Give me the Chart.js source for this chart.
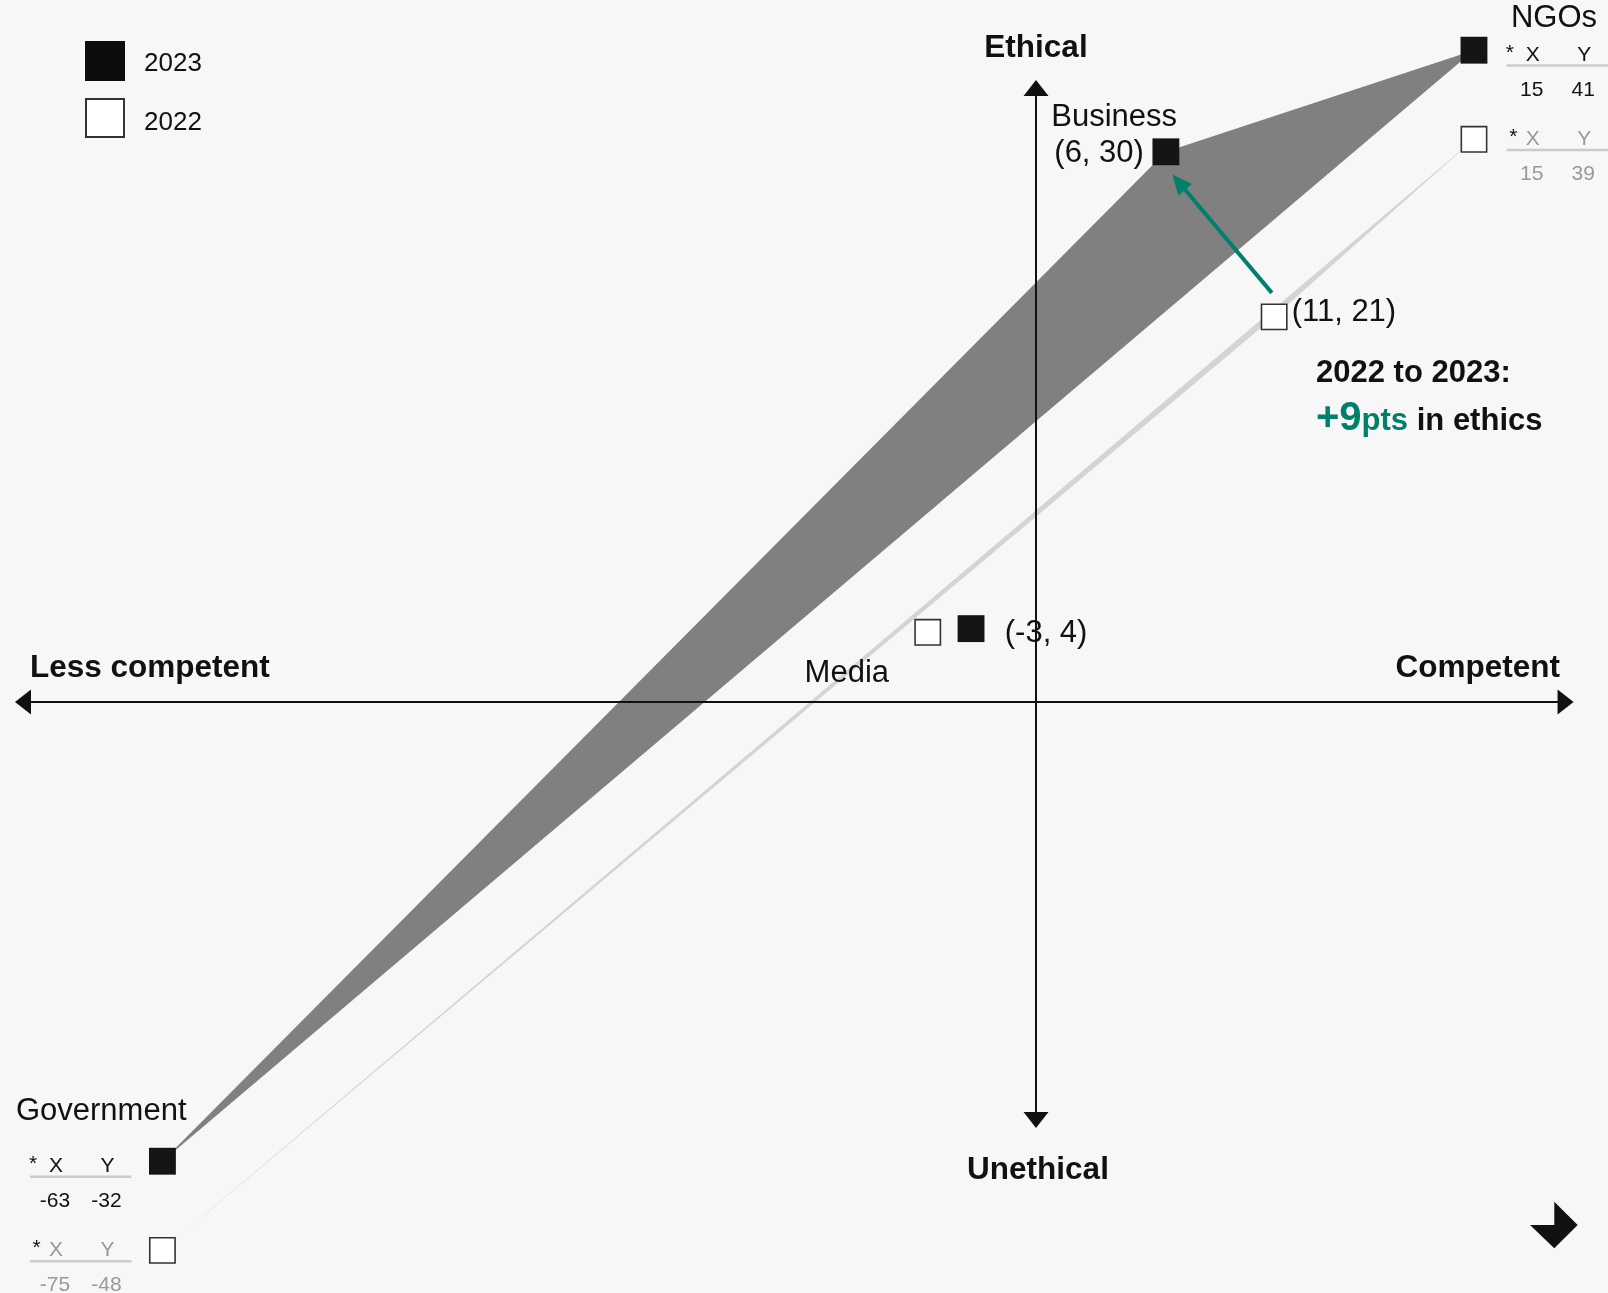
<!DOCTYPE html>
<html lang="en">
<head>
  <meta charset="UTF-8">
  <meta name="viewport" content="width=device-width, initial-scale=1.0">
  <title>Competence vs ethics</title>
  <script src="https://cdn.jsdelivr.net/npm/chart.js"></script>
  <style>
    html, body { margin: 0; padding: 0; background: #f7f7f7; }
    #wrap { width: 1608px; height: 1293px; }
  </style>
</head>
<body>
  <div id="wrap"><canvas id="myChart"></canvas></div>
  <script>
    // competence (x) and ethics (y) scores per institution
    const institutions = ['Government', 'Media', 'Business', 'NGOs'];
    const competence2023 = [-63, -3, 6, 15];
    const ethics2023 = [-32, 4, 30, 41];
    const competence2022 = [-75, -5, 11, 15];
    const ethics2022 = [-48, 3.8, 21, 39];

    // visible window - points outside it get pushed into the corner and their values go in a little table
    const pinX = [-40.35, 20.23];
    const pinY = [-25.04, 35.54];
    const pinStep = 4.86; // 2022 sits one row under 2023 when pinned

    // where the axis arrows end (data units)
    const axisX = [-47.16, 24.83];
    const axisY = [-23.23, 33.92];

    const FONT = '"Liberation Sans", Arial, sans-serif';
    const GREEN = '#00806a';

    function pinned(x, y, row) {
      const off = x < pinX[0] || x > pinX[1] || y < pinY[0] || y > pinY[1];
      if (!off) return { x: x, y: y, off: false };
      return {
        x: x > 0 ? pinX[1] : pinX[0],
        y: (y > 0 ? pinY[1] : pinY[0]) - row * pinStep,
        off: true
      };
    }

    const pts2023 = institutions.map((n, i) => pinned(competence2023[i], ethics2023[i], 0));
    const pts2022 = institutions.map((n, i) => pinned(competence2022[i], ethics2022[i], 1));

    // triangle Government -> Business -> NGOs, filled down to the Government -> NGOs edge
    const triTop = pts => [pts[0], pts[2], pts[3]];
    const triBase = pts => [pts[0], pts[3]];

    function text(ctx, str, x, y, font, color, align) {
      ctx.font = font;
      ctx.fillStyle = color;
      ctx.textAlign = align || 'left';
      ctx.textBaseline = 'alphabetic';
      ctx.fillText(str, x, y);
    }

    function arrowHead(ctx, x, y, dx, dy, len, half) {
      ctx.beginPath();
      ctx.moveTo(x, y);
      ctx.lineTo(x - dx * len - dy * half, y - dy * len + dx * half);
      ctx.lineTo(x - dx * len + dy * half, y - dy * len - dx * half);
      ctx.closePath();
      ctx.fill();
    }

    const overlay = {
      id: 'overlay',
      afterDatasetsDraw(chart) {
        const ctx = chart.ctx;
        const sx = chart.scales.x, sy = chart.scales.y;
        const px = v => sx.getPixelForValue(v);
        const py = v => sy.getPixelForValue(v);
        ctx.save();

        // axes with arrow heads
        const x0 = px(0), y0 = py(0);
        ctx.strokeStyle = '#111';
        ctx.fillStyle = '#111';
        ctx.lineWidth = 2;
        ctx.beginPath();
        ctx.moveTo(px(axisX[0]) + 10, y0); ctx.lineTo(px(axisX[1]) - 10, y0);
        ctx.moveTo(x0, py(axisY[1]) + 10); ctx.lineTo(x0, py(axisY[0]) - 10);
        ctx.stroke();
        arrowHead(ctx, px(axisX[0]), y0, -1, 0, 16, 12.5);
        arrowHead(ctx, px(axisX[1]), y0, 1, 0, 16, 12.5);
        arrowHead(ctx, x0, py(axisY[1]), 0, -1, 16, 12.5);
        arrowHead(ctx, x0, py(axisY[0]), 0, 1, 16, 12.5);

        const B = 'bold 31.5px ' + FONT;
        const R = '31px ' + FONT;
        text(ctx, 'Ethical', x0, 57, B, '#111', 'center');
        text(ctx, 'Unethical', x0 + 2, 1179, B, '#111', 'center');
        text(ctx, 'Less competent', 30, 677, B, '#111');
        text(ctx, 'Competent', 1560, 677, B, '#111', 'right');

        // point labels
        const gov = pts2023[0], med = pts2023[1], med22 = pts2022[1];
        const bus = pts2023[2], bus22 = pts2022[2], ngo = pts2023[3];
        text(ctx, institutions[2], px(bus.x) - 114.6, py(bus.y) - 26, R, '#111');
        text(ctx, '(' + competence2023[2] + ', ' + ethics2023[2] + ')', px(bus.x) - 22, py(bus.y) + 10, R, '#111', 'right');
        text(ctx, '(' + competence2022[2] + ', ' + ethics2022[2] + ')', px(bus22.x) + 17.5, py(bus22.y) + 4.5, R, '#111');
        text(ctx, '(' + competence2023[1] + ', ' + ethics2023[1] + ')', px(med.x) + 33.7, py(med.y) + 13.7, R, '#111');
        text(ctx, institutions[1], px(med22.x) - 38.7, py(med22.y) + 49.7, R, '#111', 'right');
        text(ctx, institutions[3], px(ngo.x) + 37, py(ngo.y) - 23, R, '#111');
        text(ctx, institutions[0], px(gov.x) - 146.5, py(gov.y) - 41.3, R, '#111');

        // value tables for pinned points
        const T = '21px ' + FONT;
        institutions.forEach((name, i) => {
          if (!pts2023[i].off) return;
          const cx = px(pts2023[i].x), cy = py(pts2023[i].y);
          const start = pts2023[i].x > 0 ? cx + 32.7 : cx - 132.5;
          const rows = [
            { xs: competence2023[i], ys: ethics2023[i], col: '#111', dy: 0, star: 0 },
            { xs: competence2022[i], ys: ethics2022[i], col: '#999', dy: 84.5, star: 3.5 }
          ];
          rows.forEach(r => {
            const hy = cy + 10.6 + r.dy;
            text(ctx, '*', start - 1 + r.star, hy - 2, T, '#111');
            text(ctx, 'X', start + 26, hy, T, r.col, 'center');
            text(ctx, 'Y', start + 77.5, hy, T, r.col, 'center');
            ctx.strokeStyle = '#cccccc';
            ctx.lineWidth = 2.5;
            ctx.beginPath();
            ctx.moveTo(start, hy + 4.8);
            ctx.lineTo(start + 101.5, hy + 4.8);
            ctx.stroke();
            text(ctx, String(r.xs), start + 25, hy + 35, T, r.col, 'center');
            text(ctx, String(r.ys), start + 76.5, hy + 35, T, r.col, 'center');
          });
        });

        // green change arrow, 2022 -> 2023 for business
        const ax = px(bus22.x) - 2.3, ay = py(bus22.y) - 24;
        const tx = px(bus.x) + 6.4, ty = py(bus.y) + 22.7;
        const len = Math.hypot(tx - ax, ty - ay);
        const ux = (tx - ax) / len, uy = (ty - ay) / len;
        ctx.strokeStyle = GREEN;
        ctx.fillStyle = GREEN;
        ctx.lineWidth = 4;
        ctx.beginPath();
        ctx.moveTo(ax, ay);
        ctx.lineTo(tx - ux * 16, ty - uy * 16);
        ctx.stroke();
        arrowHead(ctx, tx, ty, ux, uy, 20, 9);

        // annotation
        const gain = ethics2023[2] - ethics2022[2];
        text(ctx, '2022 to 2023:', 1316, 382, 'bold 31px ' + FONT, '#111');
        let cur = 1316;
        ctx.font = 'bold 40px ' + FONT;
        text(ctx, '+' + gain, cur, 430, 'bold 40px ' + FONT, GREEN);
        cur += ctx.measureText('+' + gain).width;
        ctx.font = 'bold 31px ' + FONT;
        text(ctx, 'pts', cur, 430, 'bold 31px ' + FONT, GREEN);
        cur += ctx.measureText('pts').width;
        text(ctx, ' in ethics', cur, 430, 'bold 31px ' + FONT, '#111');

        // legend
        ctx.fillStyle = '#0d0d0d';
        ctx.fillRect(85, 41, 40, 40);
        ctx.fillStyle = '#fff';
        ctx.fillRect(85, 98, 40, 40);
        ctx.strokeStyle = '#333';
        ctx.lineWidth = 2;
        ctx.strokeRect(86, 99, 38, 38);
        text(ctx, '2023', 144, 71, '26px ' + FONT, '#111');
        text(ctx, '2022', 144, 130, '26px ' + FONT, '#111');

        // corner mark
        ctx.fillStyle = '#111';
        ctx.beginPath();
        ctx.moveTo(1554.3, 1201.7);
        ctx.lineTo(1577.7, 1225);
        ctx.lineTo(1554.3, 1248.3);
        ctx.lineTo(1530, 1225);
        ctx.lineTo(1554.3, 1225);
        ctx.closePath();
        ctx.fill();

        ctx.restore();
      }
    };

    const ctx = document.getElementById('myChart').getContext('2d');
    const myChart = new Chart(ctx, {
      type: 'line',
      data: {
        datasets: [
          {
            label: '2023',
            data: pts2023,
            showLine: false,
            pointStyle: 'rect',
            pointRadius: 19,
            backgroundColor: '#151515',
            borderWidth: 0,
            clip: false
          },
          {
            label: '2022',
            data: pts2022,
            showLine: false,
            pointStyle: 'rect',
            pointRadius: 17.9,
            backgroundColor: '#ffffff',
            borderColor: '#333333',
            borderWidth: 1.6,
            clip: false
          },
          {
            data: triTop(pts2023),
            fill: '+1',
            backgroundColor: '#808080',
            borderColor: 'rgba(0,0,0,0)',
            borderWidth: 0,
            pointRadius: 0
          },
          {
            data: triBase(pts2023),
            fill: false,
            borderColor: 'rgba(0,0,0,0)',
            borderWidth: 0,
            pointRadius: 0
          },
          {
            data: triTop(pts2022),
            fill: '+1',
            backgroundColor: '#d4d4d4',
            borderColor: 'rgba(0,0,0,0)',
            borderWidth: 0,
            pointRadius: 0
          },
          {
            data: triBase(pts2022),
            fill: false,
            borderColor: 'rgba(0,0,0,0)',
            borderWidth: 0,
            pointRadius: 0
          }
        ]
      },
      options: {
        responsive: true,
        maintainAspectRatio: false,
        animation: false,
        events: [],
        devicePixelRatio: 1,
        layout: { padding: 0, autoPadding: false },
        plugins: {
          legend: { display: false },
          tooltip: { enabled: false }
        },
        scales: {
          x: { type: 'linear', display: false, bounds: 'data', min: -1036 / 21.65, max: 572 / 21.65 },
          y: { type: 'linear', display: false, bounds: 'data', min: -591 / 18.34, max: 702 / 18.34 }
        }
      },
      plugins: [overlay]
    });
  </script>
</body>
</html>
